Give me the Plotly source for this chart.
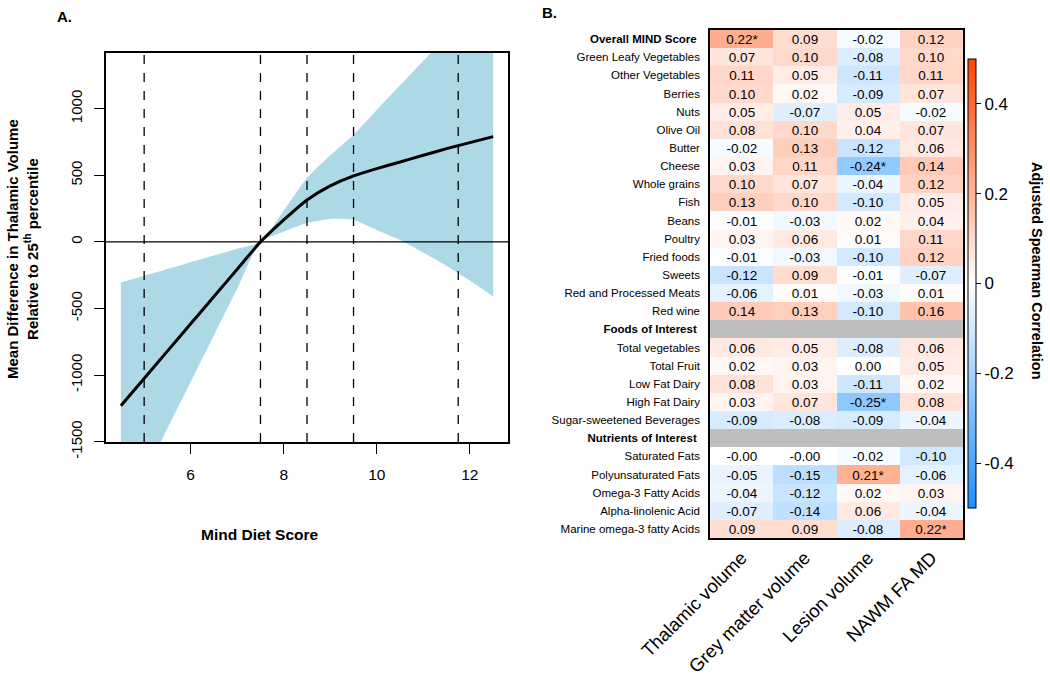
import plotly.graph_objects as go

# ---------------- Panel A data ----------------
score_x = [4.5, 5.0, 5.5, 6.0, 6.5, 7.0, 7.5, 8.0, 8.5, 9.0, 9.5, 10.0, 10.5, 11.0, 11.5, 12.0, 12.5]
mean_diff = [-1230, -1025, -820, -615, -410, -205, 0, 165, 315, 420, 495, 550, 600, 650, 700, 745, 790]
ci_upper = [-305, -254, -203, -152, -102, -51, 0, 235, 480, 650, 805, 990, 1175, 1360, 1540, 1720, 1900]
ci_lower = [-2100, -1750, -1400, -1050, -700, -350, 0, 77, 142, 172, 165, 90, 15, -80, -180, -290, -410]
knots = [5.0, 7.5, 8.5, 9.5, 11.75]
a_xticks = [6, 8, 10, 12]
a_yticks = [-1500, -1000, -500, 0, 500, 1000]

# ---------------- Panel B data ----------------
outcomes = ["Thalamic volume", "Grey matter volume", "Lesion volume", "NAWM FA MD"]
row_labels = [
    "Overall MIND Score", "Green Leafy Vegetables", "Other Vegetables", "Berries", "Nuts",
    "Olive Oil", "Butter", "Cheese", "Whole grains", "Fish", "Beans", "Poultry", "Fried foods",
    "Sweets", "Red and Processed Meats", "Red wine", "Foods of Interest", "Total vegetables",
    "Total Fruit", "Low Fat Dairy", "High Fat Dairy", "Sugar-sweetened Beverages",
    "Nutrients of Interest", "Saturated Fats", "Polyunsaturated Fats", "Omega-3 Fatty Acids",
    "Alpha-linolenic Acid", "Marine omega-3 fatty Acids",
]
header_rows = ["Overall MIND Score", "Foods of Interest", "Nutrients of Interest"]
corr = [
    [0.22, 0.09, -0.02, 0.12],
    [0.07, 0.10, -0.08, 0.10],
    [0.11, 0.05, -0.11, 0.11],
    [0.10, 0.02, -0.09, 0.07],
    [0.05, -0.07, 0.05, -0.02],
    [0.08, 0.10, 0.04, 0.07],
    [-0.02, 0.13, -0.12, 0.06],
    [0.03, 0.11, -0.24, 0.14],
    [0.10, 0.07, -0.04, 0.12],
    [0.13, 0.10, -0.10, 0.05],
    [-0.01, -0.03, 0.02, 0.04],
    [0.03, 0.06, 0.01, 0.11],
    [-0.01, -0.03, -0.10, 0.12],
    [-0.12, 0.09, -0.01, -0.07],
    [-0.06, 0.01, -0.03, 0.01],
    [0.14, 0.13, -0.10, 0.16],
    None,
    [0.06, 0.05, -0.08, 0.06],
    [0.02, 0.03, 0.00, 0.05],
    [0.08, 0.03, -0.11, 0.02],
    [0.03, 0.07, -0.25, 0.08],
    [-0.09, -0.08, -0.09, -0.04],
    None,
    [-0.0, -0.0, -0.02, -0.10],
    [-0.05, -0.15, 0.21, -0.06],
    [-0.04, -0.12, 0.02, 0.03],
    [-0.07, -0.14, 0.06, -0.04],
    [0.09, 0.09, -0.08, 0.22],
]
significant = [(0, 0), (7, 2), (20, 2), (24, 2), (27, 3)]
cbar_ticks = [-0.4, -0.2, 0, 0.2, 0.4]

FONT = "Liberation Sans, Arial, sans-serif"
W, H = 1050, 677


def px_x(p):
    return p / W


def px_y(p):
    return 1 - p / H


fig = go.Figure()

# ---------------- Panel A ----------------
fig.add_trace(go.Scatter(
    x=score_x, y=ci_upper, mode="lines",
    line=dict(width=0, color="lightblue", shape="spline", smoothing=0.6),
    hoverinfo="skip", showlegend=False, xaxis="x", yaxis="y"))
fig.add_trace(go.Scatter(
    x=score_x, y=ci_lower, mode="lines",
    line=dict(width=0, color="lightblue", shape="spline", smoothing=0.6),
    fill="tonexty", fillcolor="#ADD8E6", hoverinfo="skip", showlegend=False, xaxis="x", yaxis="y"))
fig.add_trace(go.Scatter(
    x=score_x, y=mean_diff, mode="lines",
    line=dict(width=3, color="black", shape="spline", smoothing=0.6),
    showlegend=False, xaxis="x", yaxis="y"))

shapes = []
for k in knots:
    shapes.append(dict(type="line", xref="x", yref="y domain", x0=k, x1=k, y0=0, y1=1,
                       line=dict(color="black", width=1.3, dash="dash")))
shapes.append(dict(type="line", xref="x domain", yref="y", x0=0, x1=1, y0=0, y1=0,
                   line=dict(color="black", width=1.3)))

# ---------------- Panel B ----------------
z, txt, zg = [], [], []
for i, row in enumerate(corr):
    if row is None:
        z.append([None] * 4)
        txt.append([""] * 4)
        zg.append([1] * 4)
    else:
        z.append(list(row))
        txt.append([f"{v:.2f}" + ("*" if (i, j) in significant else "") for j, v in enumerate(row)])
        zg.append([None] * 4)

fig.add_trace(go.Heatmap(
    z=zg, x=list(range(4)), y=list(range(len(row_labels))),
    colorscale=[[0, "#BEBEBE"], [1, "#BEBEBE"]], showscale=False, hoverinfo="skip",
    xaxis="x2", yaxis="y2"))
fig.add_trace(go.Heatmap(
    z=z, x=list(range(4)), y=list(range(len(row_labels))),
    text=txt, texttemplate="%{text}", textfont=dict(family=FONT, size=13.5, color="black"),
    colorscale=[[0, "rgb(30,144,255)"], [0.5, "rgb(255,255,255)"], [1, "rgb(255,69,0)"]],
    zmin=-0.5, zmax=0.5, xgap=0, ygap=0,
    colorbar=dict(
        x=px_x(968), xanchor="left", xref="container", xpad=0, ypad=0,
        y=px_y(283.5), yanchor="middle", yref="container", len=449 / H, lenmode="fraction",
        thickness=8, outlinecolor="black", outlinewidth=1,
        tickvals=cbar_ticks,
        ticktext=[("-" if t < 0 else "") + f"{abs(t):g}" for t in cbar_ticks],
        ticks="outside", ticklen=5, tickcolor="black",
        tickfont=dict(family=FONT, size=17, color="black"),
    ),
    xaxis="x2", yaxis="y2"))

row_ticktext = [f"<b>{r}</b>&nbsp;" if r in header_rows else r for r in row_labels]


def note(text, x, y, size, angle=0):
    return dict(text=text, x=px_x(x), y=px_y(y), xref="paper", yref="paper", showarrow=False,
                xanchor="center", yanchor="middle", textangle=angle,
                font=dict(family=FONT, size=size, color="black"))


annotations = [
    note("<b>A.</b>", 64, 17, 15),
    note("<b>B.</b>", 549, 12, 15),
    note("<b>Mind Diet Score</b>", 259.5, 534, 15.5),
    note("<b>Mean Difference in Thalamic Volume<br>Relative to 25<sup>th</sup> percentile</b>",
         23, 249, 15, -90),
    note("<b>Adjusted Spearman Correlation</b>", 1037, 271, 14.5, 90),
]

fig.update_layout(
    width=W, height=H, margin=dict(l=0, r=0, t=0, b=0, autoexpand=False),
    paper_bgcolor="white", plot_bgcolor="white", showlegend=False,
    font=dict(family=FONT, color="black"),
    shapes=shapes, annotations=annotations,
    xaxis=dict(domain=[px_x(106), px_x(508)], range=[4.18, 12.82], tickvals=a_xticks,
               ticktext=[str(t) for t in a_xticks], showgrid=False, zeroline=False, automargin=False,
               showline=True, mirror=True, linecolor="black", linewidth=1.5,
               ticks="outside", ticklen=10, tickwidth=1.3, tickcolor="black", ticklabelstandoff=8,
               tickfont=dict(family=FONT, size=15.5, color="black"), anchor="y"),
    yaxis=dict(domain=[px_y(442), px_y(53)], range=[-1502, 1418], tickvals=a_yticks,
               ticktext=[str(t) for t in a_yticks], tickangle=-90, showgrid=False, zeroline=False,
               automargin=False,
               showline=True, mirror=True, linecolor="black", linewidth=1.5,
               ticks="outside", ticklen=10, tickwidth=1.3, tickcolor="black", ticklabelstandoff=6,
               tickfont=dict(family=FONT, size=15, color="black"), anchor="x"),
    xaxis2=dict(domain=[px_x(710), px_x(963)], range=[-0.5, 3.5], tickvals=list(range(4)),
                ticktext=outcomes, tickangle=-45, showgrid=False, zeroline=False, automargin=False,
                showline=True, mirror=True, linecolor="black", linewidth=1.5,
                ticks="", ticklabelstandoff=0,
                tickfont=dict(family=FONT, size=18.5, color="black"), anchor="y2"),
    yaxis2=dict(domain=[px_y(538), px_y(30)], range=[len(row_labels) - 0.5, -0.5],
                tickvals=list(range(len(row_labels))), ticktext=row_ticktext,
                showgrid=False, zeroline=False, showline=True, mirror=True, automargin=False,
                linecolor="black", linewidth=1.5, ticks="", ticklabelstandoff=6,
                tickfont=dict(family=FONT, size=11.5, color="black"), anchor="x2"),
)

fig.write_html("out.html", config={"displayModeBar": False},
               post_script="document.body.style.margin='0';document.body.style.padding='0';")
